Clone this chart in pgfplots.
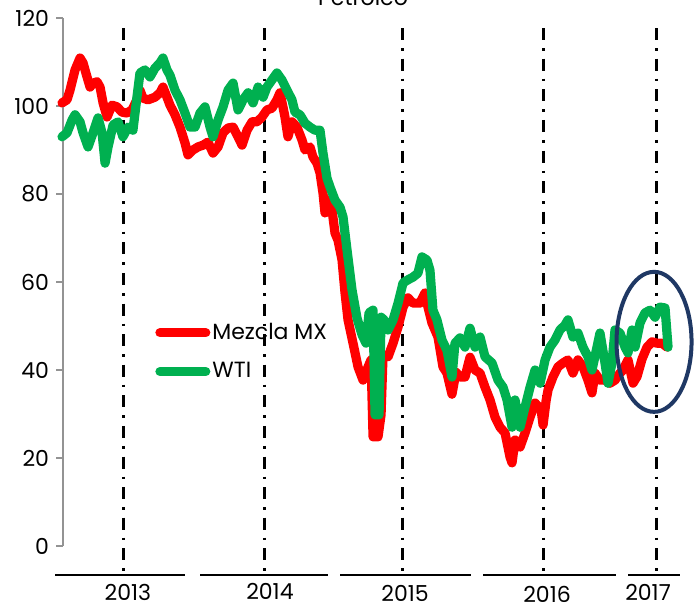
\documentclass[border=0pt]{standalone}
\usepackage{fontspec}
\setmainfont{Poppins}
\usepackage{pgfplots}
\pgfplotsset{compat=1.18}
\definecolor{mxred}{RGB}{255,0,0}
\definecolor{wtigreen}{RGB}{0,176,80}
\definecolor{navy}{RGB}{31,56,100}

\begin{document}
\begin{tikzpicture}[font=\fontsize{11}{13}\selectfont]
\begin{axis}[
    scale only axis,
    width=311pt, height=264pt,
    xmin=2013.098, xmax=2017.448,
    ymin=0, ymax=120,
    axis x line=none,
    axis y line*=left,
    axis line style={-, gray!85, line width=0.8pt},
    ytick={0,20,...,120},
    tick align=outside,
    major tick length=3.5pt,
    tick style={gray!85, line width=0.8pt},
    /pgf/number format/assume math mode=true,
    clip=false,
    legend style={at={(axis cs:2013.741,51.2)}, anchor=north west,
        draw=none, fill=none, inner sep=0pt, row sep=8pt,
        nodes={inner sep=1pt}},
    legend cell align=left,
    legend image code/.code={\draw[#1] (2.3pt,0pt) -- (25.2pt,0pt);},
]
% vertical dash-dot markers
\foreach \xv in {2013.524,2014.510,2015.469,2016.455,2017.245}{
  \edef\tmp{\noexpand\draw[black, line width=1.5pt, dash pattern=on 6pt off 4pt on 1.3pt off 4pt]
    (axis cs:\xv,117.7) -- (axis cs:\xv,-6.59);}\tmp
}

\addplot[mxred, line width=4.6pt, line join=round, line cap=round] coordinates {
(2013.091,100.7) (2013.126,101.4) (2013.147,103.6) (2013.182,108.2) (2013.217,110.9)
(2013.238,109.8) (2013.266,106.6) (2013.287,104.3) (2013.308,105.2) (2013.336,105.5)
(2013.357,104.3) (2013.378,100.7) (2013.406,97.5) (2013.441,100.2) (2013.476,99.8)
(2013.510,98.6) (2013.545,98.4) (2013.580,99.1) (2013.615,101.4) (2013.636,103.6)
(2013.657,101.8) (2013.692,101.4) (2013.741,102.0) (2013.776,103.0) (2013.797,104.3)
(2013.825,102.0) (2013.846,100.2) (2013.881,98.0) (2013.916,95.2) (2013.951,91.6)
(2013.972,88.9) (2014.007,90.0) (2014.042,90.7) (2014.077,91.1) (2014.112,91.8)
(2014.147,89.3) (2014.182,90.7) (2014.217,93.9) (2014.252,95.0) (2014.287,95.2)
(2014.322,93.0) (2014.350,91.1) (2014.385,94.5) (2014.420,96.4) (2014.455,96.4)
(2014.490,97.5) (2014.524,99.1) (2014.559,99.5) (2014.594,101.4) (2014.615,103.0)
(2014.636,99.8) (2014.650,97.5) (2014.671,93.0) (2014.699,96.4) (2014.734,95.2)
(2014.769,92.3) (2014.790,90.0) (2014.825,90.7) (2014.846,88.4) (2014.874,87.0)
(2014.895,84.8) (2014.916,80.2) (2014.930,75.7) (2014.951,78.6) (2014.979,76.4)
(2015.000,71.1) (2015.021,69.5) (2015.049,65.0) (2015.070,57.5) (2015.091,51.4)
(2015.126,46.1) (2015.161,40.7) (2015.196,37.7) (2015.231,40.7) (2015.252,42.3)
(2015.266,24.8) (2015.301,24.8) (2015.322,29.8) (2015.336,43.4) (2015.371,43.0)
(2015.406,46.1) (2015.441,49.8) (2015.476,54.3) (2015.510,56.4) (2015.545,55.2)
(2015.594,55.2) (2015.629,57.5) (2015.650,54.3) (2015.678,50.7) (2015.720,47.5)
(2015.755,40.7) (2015.783,39.3) (2015.818,34.5) (2015.846,39.5) (2015.874,38.4)
(2015.909,38.4) (2015.944,42.9) (2015.979,40.0) (2016.014,39.3) (2016.049,36.1)
(2016.084,33.2) (2016.119,29.3) (2016.154,27.0) (2016.189,25.7) (2016.224,20.2)
(2016.238,18.9) (2016.259,24.1) (2016.294,22.5) (2016.329,25.7) (2016.364,29.3)
(2016.399,32.5) (2016.441,31.0) (2016.455,27.5) (2016.476,33.0) (2016.490,35.5)
(2016.524,38.4) (2016.559,40.7) (2016.594,41.6) (2016.629,42.3) (2016.664,39.3)
(2016.699,42.3) (2016.734,40.7) (2016.769,37.7) (2016.797,34.8) (2016.818,39.3)
(2016.853,37.7) (2016.888,37.7) (2016.923,37.0) (2016.958,37.7) (2016.993,39.3)
(2017.014,40.0) (2017.049,42.3) (2017.084,37.0) (2017.112,38.5) (2017.147,42.5)
(2017.182,45.2) (2017.217,46.4) (2017.252,46.1) (2017.287,46.1) (2017.322,45.2)
};
\addlegendentry{Mezcla MX}

\addplot[wtigreen, line width=4.6pt, line join=round, line cap=round] coordinates {
(2013.091,93.0) (2013.126,93.9) (2013.161,96.8) (2013.182,98.0) (2013.217,96.4)
(2013.238,93.9) (2013.273,90.7) (2013.308,93.9) (2013.343,97.3) (2013.371,93.9)
(2013.392,87.0) (2013.413,90.7) (2013.448,95.7) (2013.483,96.4) (2013.517,93.0)
(2013.552,95.2) (2013.587,94.5) (2013.615,102.0) (2013.636,107.5) (2013.671,108.2)
(2013.706,106.6) (2013.741,108.6) (2013.776,109.8) (2013.797,110.9) (2013.825,108.2)
(2013.846,107.0) (2013.881,103.6) (2013.916,101.4) (2013.951,98.4) (2013.986,95.2)
(2014.021,95.2) (2014.056,98.4) (2014.091,99.8) (2014.126,95.2) (2014.147,93.0)
(2014.182,96.8) (2014.217,99.8) (2014.252,103.6) (2014.287,105.2) (2014.322,99.1)
(2014.357,101.4) (2014.392,103.0) (2014.427,100.7) (2014.462,104.3) (2014.497,102.0)
(2014.524,104.3) (2014.559,105.9) (2014.594,107.5) (2014.629,105.9) (2014.664,103.6)
(2014.699,101.4) (2014.720,98.6) (2014.755,98.0) (2014.790,96.1) (2014.825,95.2)
(2014.860,94.5) (2014.895,94.5) (2014.916,89.3) (2014.944,83.6) (2014.965,81.6)
(2015.000,78.6) (2015.035,77.0) (2015.056,74.8) (2015.084,67.3) (2015.119,58.2)
(2015.154,51.8) (2015.189,48.0) (2015.217,46.1) (2015.238,53.0) (2015.266,53.6)
(2015.280,29.8) (2015.308,29.8) (2015.322,52.0) (2015.343,51.4) (2015.371,49.1)
(2015.406,51.4) (2015.441,55.2) (2015.476,59.8) (2015.510,60.5) (2015.545,61.1)
(2015.580,62.0) (2015.608,65.7) (2015.643,65.0) (2015.664,62.7) (2015.685,53.6)
(2015.713,51.4) (2015.748,46.8) (2015.783,44.5) (2015.818,38.4) (2015.839,46.1)
(2015.874,47.3) (2015.909,45.2) (2015.944,49.5) (2015.979,45.2) (2016.014,47.5)
(2016.049,43.0) (2016.098,41.6) (2016.140,37.7) (2016.175,36.1) (2016.203,33.2)
(2016.238,27.0) (2016.259,33.2) (2016.294,27.0) (2016.329,31.6) (2016.364,36.1)
(2016.399,40.0) (2016.434,37.0) (2016.469,42.3) (2016.503,45.2) (2016.538,46.8)
(2016.573,49.1) (2016.608,50.2) (2016.629,51.4) (2016.664,47.5) (2016.699,48.4)
(2016.734,45.2) (2016.769,43.0) (2016.797,40.0) (2016.832,45.2) (2016.853,48.4)
(2016.888,41.6) (2016.909,37.0) (2016.937,41.6) (2016.958,49.1) (2016.993,48.4)
(2017.028,45.2) (2017.049,43.9) (2017.077,49.1) (2017.098,45.2) (2017.133,50.7)
(2017.168,53.0) (2017.203,53.6) (2017.238,52.0) (2017.273,54.3) (2017.308,54.1)
(2017.329,45.2)
};
\addlegendentry{WTI}

% year bands under the axis
\draw[black, line width=1.2pt] (axis cs:2013.042,-6.59) -- (axis cs:2013.951,-6.59);
\draw[black, line width=1.2pt] (axis cs:2014.056,-6.59) -- (axis cs:2014.951,-6.59);
\draw[black, line width=1.2pt] (axis cs:2015.035,-6.59) -- (axis cs:2015.951,-6.59);
\draw[black, line width=1.2pt] (axis cs:2016.035,-6.59) -- (axis cs:2016.965,-6.59);
\draw[black, line width=1.2pt] (axis cs:2017.049,-6.59) -- (axis cs:2017.413,-6.59);
\begin{scope}[every node/.style={anchor=base, inner sep=0pt}]
\node at (axis cs:2013.552,-12.4) {2013};
\node at (axis cs:2014.545,-12.1) {2014};
\node at (axis cs:2015.490,-12.7) {2015};
\node at (axis cs:2016.483,-12.8) {2016};
\node at (axis cs:2017.189,-12.4) {2017};
\end{scope}

% title, cut by the top edge
\node[anchor=base] at (axis cs:2015.196,122.95) {Petróleo};

% highlight
\draw[navy, line width=2pt] (axis cs:2017.231,46.4) ellipse [x radius=18.75pt, y radius=35pt];

\coordinate (bl) at (axis cs:2012.6573,-13.64);
\coordinate (tr) at (axis cs:2017.5105,124.09);
\end{axis}
\pgfresetboundingbox
\path[use as bounding box] (bl) rectangle (tr);
\end{tikzpicture}
\end{document}
